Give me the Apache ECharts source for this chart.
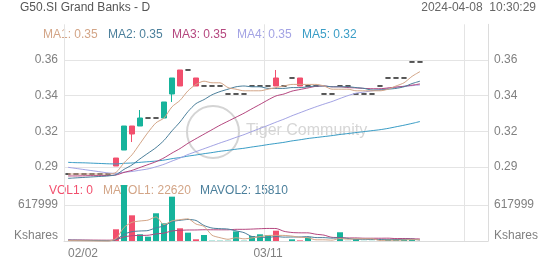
<!DOCTYPE html>
<html>
<head>
<meta charset="utf-8">
<script src="https://cdn.jsdelivr.net/npm/echarts@6.0.0/dist/echarts.min.js"></script>
<style>
html,body{margin:0;padding:0;background:#fff;}
#c{width:552px;height:265px;}
</style>
</head>
<body>
<div id="c"></div>
<script>
const titleText = 'G50.SI Grand Banks - D';
const timeText = '2024-04-08  10:30:29';
const dates = ['02/02','02/05','02/06','02/07','02/08','02/09','02/13','02/14','02/15','02/16','02/19','02/20','02/21','02/22','02/23','02/26','02/27','02/28','02/29','03/01','03/04','03/05','03/06','03/07','03/08','03/11','03/12','03/13','03/14','03/15','03/18','03/19','03/20','03/21','03/22','03/25','03/26','03/27','03/28','04/01','04/02','04/03','04/04','04/05','04/08'];
const futureDates = ['04/09','04/10','04/11','04/12','04/15','04/16','04/17','04/18'];
const opens  = [0.29,0.29,0.29,0.29,0.29,0.29,0.30,0.305,0.32,0.32,0.325,0.325,0.325,0.34,0.355,0.355,0.35,0.345,0.345,0.345,0.34,0.34,0.34,0.345,0.345,0.345,0.35,0.345,0.35,0.35,0.345,0.345,0.34,0.34,0.345,0.345,0.34,0.34,0.34,0.345,0.35,0.35,0.35,0.36,0.36];
const closes = [0.29,0.29,0.29,0.29,0.29,0.29,0.295,0.32,0.315,0.325,0.325,0.325,0.335,0.35,0.345,0.355,0.345,0.345,0.345,0.345,0.34,0.34,0.34,0.345,0.345,0.345,0.345,0.345,0.35,0.345,0.345,0.345,0.34,0.34,0.345,0.345,0.34,0.34,0.34,0.345,0.35,0.35,0.35,0.36,0.36];
const lows   = [0.29,0.29,0.29,0.29,0.29,0.29,0.295,0.305,0.31,0.32,0.325,0.325,0.325,0.335,0.345,0.355,0.345,0.345,0.345,0.345,0.34,0.34,0.34,0.345,0.345,0.345,0.345,0.345,0.35,0.345,0.345,0.345,0.34,0.34,0.345,0.345,0.34,0.34,0.34,0.345,0.35,0.35,0.35,0.36,0.36];
const highs  = [0.29,0.29,0.29,0.29,0.29,0.29,0.30,0.32,0.32,0.33,0.325,0.325,0.335,0.35,0.355,0.355,0.35,0.345,0.345,0.345,0.34,0.34,0.34,0.345,0.345,0.345,0.355,0.345,0.35,0.35,0.345,0.345,0.34,0.34,0.345,0.345,0.34,0.34,0.34,0.345,0.35,0.35,0.35,0.36,0.36];
const volumes = [0,0,0,0,0,0,201000,961000,441000,115000,74000,476000,304000,761000,218000,143000,29000,103000,5000,5000,5000,165000,5000,86000,115000,100000,177000,0,29000,10000,63000,0,0,0,150000,3000,34000,3000,3000,2000,28000,28000,28000,29100,0];
const ma1 = [0.29,0.29,0.29,0.29,0.29,0.29,0.291,0.297,0.302,0.309,0.316,0.322,0.325,0.332,0.336,0.342,0.346,0.348,0.347,0.347,0.344,0.343,0.342,0.342,0.342,0.343,0.344,0.345,0.346,0.346,0.346,0.346,0.345,0.343,0.343,0.343,0.342,0.342,0.342,0.342,0.343,0.345,0.347,0.351,0.354];
const ma2 = [0.2873,0.2876,0.2879,0.2882,0.2885,0.2888,0.2896,0.2929,0.2957,0.2995,0.303,0.3065,0.311,0.317,0.3225,0.329,0.334,0.3365,0.3395,0.3415,0.343,0.3445,0.345,0.3445,0.3445,0.3435,0.3435,0.3435,0.344,0.344,0.3445,0.345,0.345,0.3445,0.3445,0.3445,0.344,0.3435,0.3425,0.3425,0.343,0.3435,0.3445,0.3465,0.348];
const ma3 = [0.2888,0.2888,0.2889,0.289,0.289,0.2891,0.2894,0.291,0.2923,0.2941,0.2959,0.2977,0.3001,0.3031,0.3059,0.3092,0.3121,0.3149,0.3177,0.3205,0.323,0.3255,0.328,0.3308,0.3335,0.3363,0.3388,0.34,0.3418,0.3428,0.3438,0.3448,0.345,0.3445,0.3445,0.344,0.3438,0.3435,0.3433,0.3433,0.3438,0.3443,0.3448,0.3455,0.3463];
const ma4 = [0.2942,0.2935,0.2928,0.2921,0.2914,0.2907,0.2904,0.2911,0.2916,0.2924,0.2932,0.2945,0.2961,0.2981,0.3,0.3022,0.304,0.3058,0.3076,0.3094,0.3111,0.3129,0.3146,0.3166,0.3185,0.3204,0.3224,0.3243,0.3264,0.3283,0.3302,0.332,0.3337,0.3353,0.3372,0.339,0.3405,0.3412,0.342,0.3427,0.3435,0.3443,0.3448,0.3452,0.3457];
const ma5 = [0.2973,0.2971,0.297,0.2968,0.2966,0.2964,0.2963,0.2967,0.2969,0.2973,0.2977,0.2981,0.2987,0.2996,0.3003,0.3012,0.3019,0.3027,0.3034,0.3042,0.3048,0.3055,0.3061,0.3069,0.3076,0.3084,0.3091,0.3098,0.3107,0.3114,0.3122,0.3128,0.3134,0.314,0.3147,0.3153,0.3159,0.3165,0.3171,0.3177,0.3185,0.3195,0.3205,0.3216,0.3228];
const mavol1 = [8000,6000,4000,2000,0,0,40200,232400,320600,343600,358400,413400,282000,346000,366600,380400,291000,250800,99600,57000,29400,56600,37000,53200,75200,94200,96600,95600,84200,63200,55800,20400,20400,14600,42600,30600,37400,38000,38600,9000,14000,12800,17800,23020,22620];
const mavol2 = [15000,13000,11000,9000,7000,5000,22000,116200,160300,171800,179200,226800,257200,333300,355100,369400,352200,266400,222800,211800,204900,173800,143900,76400,66100,61800,76600,66300,68700,69200,75000,58500,58000,49400,52900,43200,28900,29200,26600,25800,22300,25100,27900,30810,15810];
const mavol3 = [19000,18000,17000,16000,15000,14000,23050,70100,91150,95900,98600,121400,135600,172650,182550,188700,189150,193300,192550,191800,192050,200300,200550,204850,210600,215600,214400,166350,145750,140500,139950,116150,100950,62900,59500,52500,52750,47750,47650,47500,48650,41800,42950,40100,34350];
const priceGridValues = [0.29438, 0.31667, 0.33896, 0.36125];
const volGridValue = 617999;

const UP = '#16b39b', DOWN = '#f24f6d', DOJI = '#222222';
const C_MA1 = '#d3a587', C_MA2 = '#4b7f9b', C_MA3 = '#b5477f', C_MA4 = '#a3a3e4', C_MA5 = '#3a9dc6';
const LABEL = '#808080', GRID = '#e4e4e4';
const FONT = 'Liberation Sans, Arial, sans-serif';

const cats = dates.concat(futureDates);
const pInt = priceGridValues[1] - priceGridValues[0];
const pMin = priceGridValues[0] - pInt;
const pMax = priceGridValues[priceGridValues.length - 1] + pInt;

const candleData = opens.map((o, i) => [o, closes[i], lows[i], highs[i]]);
const volData = volumes.map((v, i) => ({
  value: v,
  itemStyle: { color: closes[i] < opens[i] ? DOWN : UP }
}));

const chart = echarts.init(document.getElementById('c'), null, { renderer: 'canvas' });

const yLabel = { color: LABEL, fontSize: 12, fontFamily: FONT, margin: 6 };
const priceFmt = v => v.toFixed(2);
const volFmt = v => (v === 0 ? '{k|Kshares}' : String(Math.round(v)));
const volRich = { k: { color: LABEL, fontSize: 12, fontFamily: FONT, padding: [0, 0, 10, 0] } };

function legendTexts(items, y) {
  return items.map(it => ({
    type: 'text', left: it.x, top: y, silent: true,
    style: { text: it.t, fill: it.c, font: '12px ' + FONT }
  }));
}

const lastIdx = dates.length - 1;
const maLegend = [
  { t: 'MA1: ' + ma1[lastIdx].toFixed(2), c: C_MA1, x: 43 },
  { t: 'MA2: ' + ma2[lastIdx].toFixed(2), c: C_MA2, x: 108 },
  { t: 'MA3: ' + ma3[lastIdx].toFixed(2), c: C_MA3, x: 172 },
  { t: 'MA4: ' + ma4[lastIdx].toFixed(2), c: C_MA4, x: 237 },
  { t: 'MA5: ' + ma5[lastIdx].toFixed(2), c: C_MA5, x: 302 }
];
const volLegend = [
  { t: 'VOL1: ' + volumes[lastIdx], c: DOWN, x: 49 },
  { t: 'MAVOL1: ' + mavol1[lastIdx], c: C_MA1, x: 103 },
  { t: 'MAVOL2: ' + mavol2[lastIdx], c: C_MA2, x: 200 }
];

const lineS = (name, data, color, xi, yi) => ({
  name, type: 'line', data, xAxisIndex: xi, yAxisIndex: yi,
  symbol: 'none', smooth: 0.25, clip: false, silent: true,
  lineStyle: { color, width: 1 }, z: 5
});

chart.setOption({
  animation: false,
  backgroundColor: '#ffffff',
  textStyle: { fontFamily: FONT },
  grid: [
    { left: 64, right: 64, top: 24.3, height: 178.4 },
    { left: 64, right: 64, top: 169, height: 72 }
  ],
  xAxis: [
    { type: 'category', gridIndex: 0, data: cats, boundaryGap: true,
      axisLine: { show: false }, axisTick: { show: false }, axisLabel: { show: false },
      splitLine: { show: true, interval: (i) => i % 25 === 0, lineStyle: { color: GRID, width: 1 } } },
    { type: 'category', gridIndex: 1, data: cats, boundaryGap: true,
      axisLine: { show: true, lineStyle: { color: '#dcdcdc' } }, axisTick: { show: false },
      axisLabel: { interval: (i) => i === 0 || i === 25, color: LABEL, fontSize: 12, fontFamily: FONT, margin: 7, alignMinLabel: 'left' },
      splitLine: { show: true, interval: (i) => i % 25 === 0, lineStyle: { color: GRID, width: 1 } } }
  ],
  yAxis: [
    { type: 'value', gridIndex: 0, position: 'left', min: pMin, max: pMax, interval: pInt,
      axisLine: { show: false }, axisTick: { show: false },
      axisLabel: Object.assign({ formatter: priceFmt, showMinLabel: false, showMaxLabel: false }, yLabel),
      splitLine: { show: true, showMinLine: false, showMaxLine: false, lineStyle: { color: GRID, width: 1 } } },
    { type: 'value', gridIndex: 0, position: 'right', min: pMin, max: pMax, interval: pInt,
      axisLine: { show: true, lineStyle: { color: '#dcdcdc' } }, axisTick: { show: false },
      axisLabel: Object.assign({ formatter: priceFmt, showMinLabel: false, showMaxLabel: false }, yLabel),
      splitLine: { show: false } },
    { type: 'value', gridIndex: 1, position: 'left', min: 0, max: volGridValue * 2, interval: volGridValue,
      axisLine: { show: false }, axisTick: { show: false },
      axisLabel: Object.assign({ formatter: volFmt, rich: volRich, showMaxLabel: false }, yLabel),
      splitLine: { show: true, showMinLine: false, showMaxLine: false, lineStyle: { color: GRID, width: 1 } } },
    { type: 'value', gridIndex: 1, position: 'right', min: 0, max: volGridValue * 2, interval: volGridValue,
      axisLine: { show: true, lineStyle: { color: '#dcdcdc' } }, axisTick: { show: false },
      axisLabel: Object.assign({ formatter: volFmt, rich: volRich, showMaxLabel: false }, yLabel),
      splitLine: { show: false } }
  ],
  graphic: [
    { type: 'text', left: 20, top: 2, silent: true, style: { text: titleText, fill: '#555', font: '12px ' + FONT } },
    { type: 'text', right: 16, top: 2, silent: true, style: { text: timeText, fill: '#666', font: '12px ' + FONT } },
    { type: 'circle', shape: { cx: 213, cy: 132, r: 26 }, silent: true, z: 1,
      style: { fill: 'none', stroke: '#d4d4d4', lineWidth: 2 } },
    { type: 'text', left: 246, top: 123, silent: true, z: 1,
      style: { text: 'Tiger Community', fill: '#d6d6d6', font: '16px ' + FONT } }
  ].concat(legendTexts(maLegend, 29)).concat(legendTexts(volLegend, 185)),
  series: [
    lineS('MA5', ma5, C_MA5, 0, 0),
    lineS('MA4', ma4, C_MA4, 0, 0),
    lineS('MA3', ma3, C_MA3, 0, 0),
    lineS('MA2', ma2, C_MA2, 0, 0),
    lineS('MA1', ma1, C_MA1, 0, 0),
    { name: 'K', type: 'candlestick', xAxisIndex: 0, yAxisIndex: 0, data: candleData,
      barWidth: 6, clip: false, silent: true, z: 4,
      itemStyle: { color: UP, color0: DOWN, borderColor: UP, borderColor0: DOWN, borderColorDoji: DOJI, borderWidth: 1 } },
    { name: 'VOL', type: 'bar', xAxisIndex: 1, yAxisIndex: 2, data: volData, barWidth: 6, silent: true, z: 2 },
    lineS('MAVOL3', mavol3, C_MA3, 1, 2),
    lineS('MAVOL2', mavol2, C_MA2, 1, 2),
    lineS('MAVOL1', mavol1, C_MA1, 1, 2)
  ]
});
</script>
</body>
</html>
